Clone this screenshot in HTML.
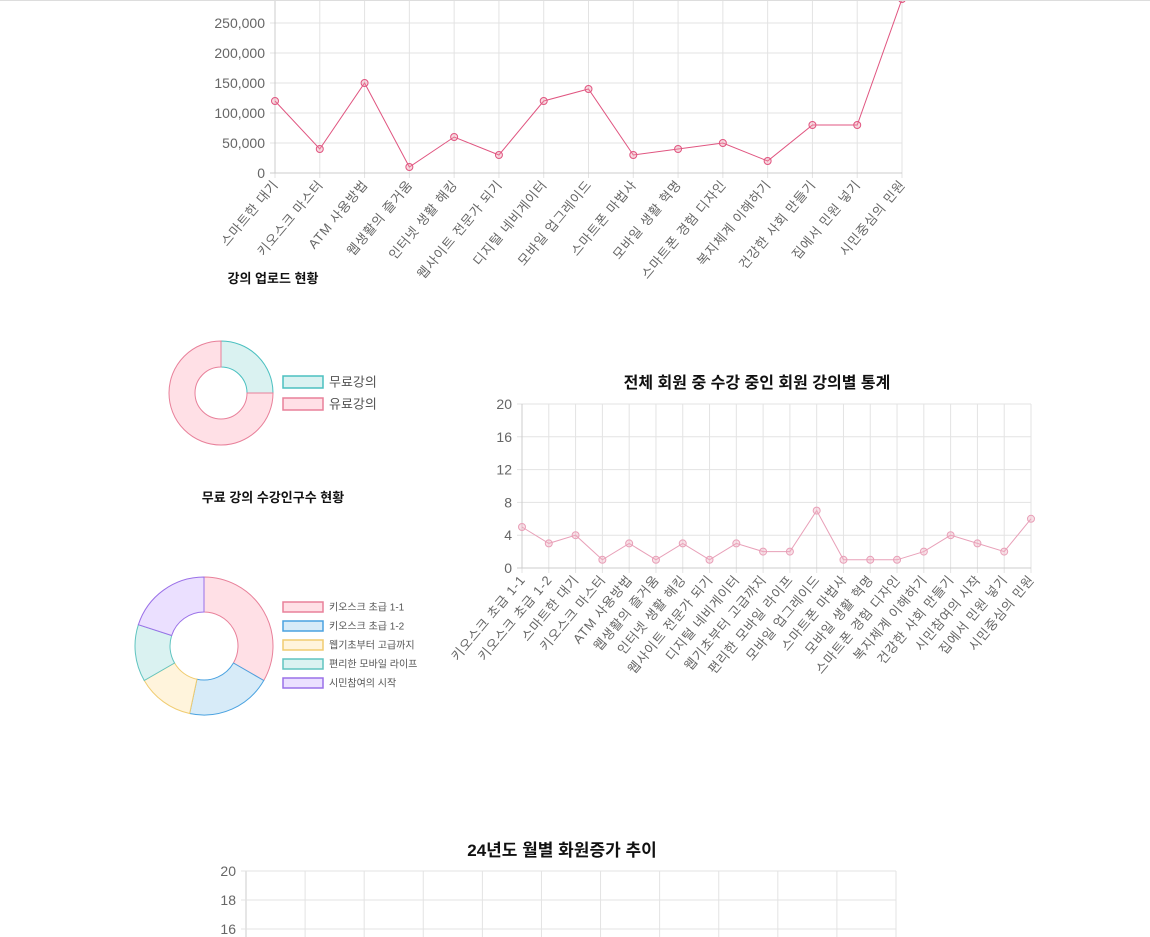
<!DOCTYPE html>
<html><head><meta charset="utf-8">
<style>
body{margin:0;background:#fff;width:1150px;height:937px;overflow:hidden;font-family:"Liberation Sans","Noto Sans CJK KR",sans-serif;}
svg{position:absolute;left:0;top:0}
text{font-family:"Liberation Sans","Noto Sans CJK KR",sans-serif;}
.xl{letter-spacing:0.8px}
</style></head>
<body>
<svg id="s" width="1150" height="937" viewBox="0 0 1150 937" xmlns="http://www.w3.org/2000/svg">
<line x1="0" y1="0.5" x2="1150" y2="0.5" stroke="#ddd"/>
</svg>
<script>
const uploadCats=["스마트한 대기","키오스크 마스터","ATM 사용방법","웹생활의 즐거움","인터넷 생활 해킹","웹사이트 전문가 되기","디지털 네비게이터","모바일 업그레이드","스마트폰 마법사","모바일 생활 혁명","스마트폰 경험 디자인","복지체계 이해하기","건강한 사회 만들기","집에서 민원 넣기","시민중심의 민원"];
const uploadVals=[120000,40000,150000,10000,60000,30000,120000,140000,30000,40000,50000,20000,80000,80000,290000];
const uploadTicks=[0,50000,100000,150000,200000,250000];
const pie1Labels=["무료강의","유료강의"];
const pie1Vals=[1,3];
const pie2Labels=["키오스크 초급 1-1","키오스크 초급 1-2","웹기초부터 고급까지","편리한 모바일 라이프","시민참여의 시작"];
const pie2Vals=[5,3,2,2,3];
const enrollCats=["키오스크 초급 1-1","키오스크 초급 1-2","스마트한 대기","키오스크 마스터","ATM 사용방법","웹생활의 즐거움","인터넷 생활 해킹","웹사이트 전문가 되기","디지털 네비게이터","웹기초부터 고급까지","편리한 모바일 라이프","모바일 업그레이드","스마트폰 마법사","모바일 생활 혁명","스마트폰 경험 디자인","복지체계 이해하기","건강한 사회 만들기","시민참여의 시작","집에서 민원 넣기","시민중심의 민원"];
const enrollVals=[5,3,4,1,3,1,3,1,3,2,2,7,1,1,1,2,4,3,2,6];
const enrollTicks=[0,4,8,12,16,20];
const monthTicks=[16,18,20];
const months=[1,2,3,4,5,6,7,8,9,10,11,12];

const NS="http://www.w3.org/2000/svg";
const S=document.getElementById('s');
function mk(tag,attrs,parent,txt){const e=document.createElementNS(NS,tag);for(const k in attrs)e.setAttribute(k,attrs[k]);if(txt!==undefined)e.textContent=txt;(parent||S).appendChild(e);return e;}
function fmt(v){return v.toLocaleString('en-US');}

function lineChart(o){
  const g=mk('g',{});
  
  
  const n=o.cats.length;
  const xs=i=>o.x0+(o.x1-o.x0)*i/(n-1);
  const ys=v=>o.y0-(v-o.min)/(o.max-o.min)*(o.y0-o.y1);
  for(let i=0;i<n;i++){
    const l=mk('line',{x1:xs(i),x2:xs(i),y1:o.y1,y2:o.y0+5,stroke:'#e3e3e3'},g);
    
    
    const t=mk('text',{class:'xl',x:0,y:0,'text-anchor':'end','font-size':o.fs,fill:'#666',transform:`translate(${xs(i)+4},${o.y0+12}) rotate(-50)`},g,o.cats[i]);
    
    
  }
  o.ticks.forEach(v=>{
    const l=mk('line',{x1:o.x0-5,x2:o.x1,y1:ys(v),y2:ys(v),stroke:v===o.min?'#ccc':'#e3e3e3'},g);
    
    
    const t=mk('text',{x:o.x0-10,y:ys(v)+5,'text-anchor':'end','font-size':14,fill:'#666'},g,o.tf?o.tf(v):v);
    
    
  });
  const ax=mk('line',{x1:o.x0,x2:o.x0,y1:o.y1,y2:o.y0,stroke:'#ccc'},g);
  
  
  if(!o.vals)return;
  const pts=o.vals.map((v,i)=>xs(i)+','+ys(v)).join(' ');
  const pl=mk('polyline',{points:pts,fill:'none',stroke:o.color,'stroke-width':1},g);
  
  
  o.vals.forEach((v,i)=>{
    const c=mk('circle',{cx:xs(i),cy:ys(v),r:3.5,fill:o.fill,stroke:o.color,'stroke-width':1},g);
    
    
  });
}

const clip=mk('clipPath',{id:'c1'});mk('rect',{x:0,y:1,width:1150,height:400},clip);
lineChart({name:'upload-line-chart',cats:uploadCats,vals:uploadVals,ticks:uploadTicks,x0:275,x1:902,y0:173,y1:-7,min:0,max:300000,fs:13,color:'#e05580',fill:'rgba(240,150,170,0.35)',tf:fmt});
S.lastChild.setAttribute('clip-path','url(#c1)');

function title(x,y,t,fs,name){const e=mk('text',{x:x,y:y,'text-anchor':'middle','font-size':fs,'font-weight':'bold',fill:'#111'},S,t);

}
title(273,283,'강의 업로드 현황',13,'upload-chart-title');
title(273,502,'무료 강의 수강인구수 현황',13,'free-enroll-title');
title(757,388,'전체 회원 중 수강 중인 회원 강의별 통계',16,'enroll-chart-title');
title(562,856,'24년도 월별 화원증가 추이',17,'monthly-chart-title');

function donut(o){
  const g=mk('g',{});
  
  
  const tot=o.vals.reduce((a,b)=>a+b,0);let a=0;
  o.vals.forEach((v,i)=>{
    const a0=a/tot*2*Math.PI,a1=(a+v)/tot*2*Math.PI;a+=v;
    const P=(r,t)=>[o.cx+r*Math.sin(t),o.cy-r*Math.cos(t)];
    const lg=(a1-a0)>Math.PI?1:0;
    const [x0,y0]=P(o.R,a0),[x1,y1]=P(o.R,a1),[x2,y2]=P(o.r,a1),[x3,y3]=P(o.r,a0);
    const p=mk('path',{d:`M${x0},${y0}A${o.R},${o.R} 0 ${lg} 1 ${x1},${y1}L${x2},${y2}A${o.r},${o.r} 0 ${lg} 0 ${x3},${y3}Z`,fill:o.fills[i],stroke:o.strokes[i],'stroke-width':1},g);
    
    
    const ly=o.ly+i*o.lgap;
    const b=mk('rect',{x:283,y:ly,width:40,height:o.bh,fill:o.fills[i],stroke:o.strokes[i],'stroke-width':1.5},g);
    
    
    const t=mk('text',{x:329,y:ly+o.bh/2+o.lfs*0.36,'font-size':o.lfs,fill:'#555'},g,o.labels[i]);
    
    
  });
}
donut({name:'upload-donut',vals:pie1Vals,labels:pie1Labels,cx:221,cy:393,R:52,r:26,fills:['#daf2f1','#ffe0e6'],strokes:['#4bc0c0','#e8809a'],ly:376,lgap:22,bh:12,lfs:13});
donut({name:'free-enroll-donut',vals:pie2Vals,labels:pie2Labels,cx:204,cy:646,R:69,r:34,fills:['#ffe0e6','#d7ebf8','#fff4dc','#daf2f1','#ebe0ff'],strokes:['#e8809a','#4aa2e0','#f0cc70','#60c4c0','#9a70e8'],ly:602,lgap:19,bh:10,lfs:10});

lineChart({name:'enroll-line-chart',cats:enrollCats,vals:enrollVals,ticks:enrollTicks,x0:522,x1:1031,y0:568,y1:404,min:0,max:20,fs:13,color:'#e8a0b8',fill:'rgba(240,170,190,0.35)'});

(function(){
  const g=mk('g',{});
  
  
  const x0=246,x1=896,yT=871,per=14.5;
  const ys=v=>yT+(20-v)*per;
  months.forEach((m,i)=>{
    const x=x0+(x1-x0)*i/(months.length-1);
    const l=mk('line',{x1:x,x2:x,y1:yT,y2:937,stroke:i===0?'#ccc':'#e3e3e3'},g);
    
    
  });
  monthTicks.forEach(v=>{
    const l=mk('line',{x1:x0-5,x2:x1,y1:ys(v),y2:ys(v),stroke:'#e3e3e3'},g);
    
    
    const t=mk('text',{x:x0-10,y:ys(v)+5,'text-anchor':'end','font-size':14,fill:'#666'},g,v);
    
    
  });
})();
</script>
</body></html>
